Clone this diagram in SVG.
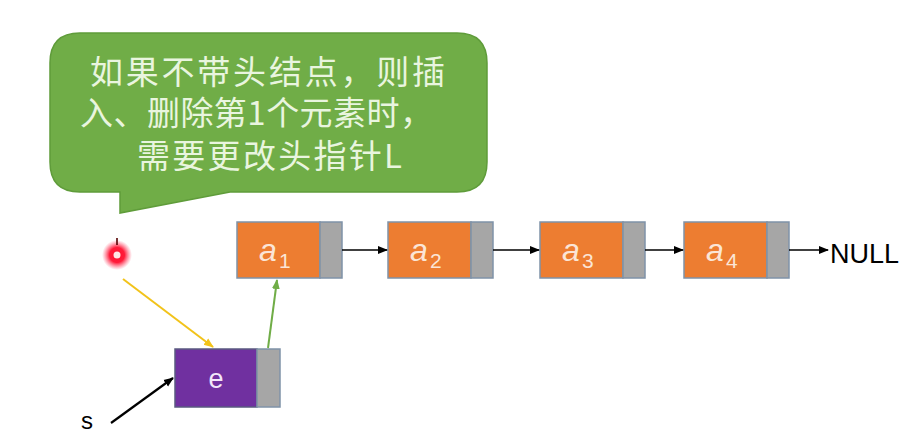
<svg xmlns="http://www.w3.org/2000/svg" width="914" height="434" viewBox="0 0 914 434">
<defs>
<style>
.data{fill:#ed7d31;stroke:#7f92a8;stroke-width:1.5}
.ptr{fill:#a6a6a6;stroke:#7f92a8;stroke-width:1.5}
.lbl{font-family:"Liberation Sans",sans-serif;font-style:italic;fill:#fbe5d6;font-size:32px}
.sub{font-family:"Liberation Sans",sans-serif;fill:#fbe5d6;font-size:21px}
.cjk{font-family:"Noto Sans CJK SC","Liberation Sans",sans-serif;font-size:33px;fill:#e9f5df}
.conn{stroke:#000;stroke-width:1.6;fill:none}
</style>
<marker id="ab" markerWidth="10" markerHeight="10" refX="9" refY="5" orient="auto" markerUnits="userSpaceOnUse"><path d="M0,1 L10,5 L0,9 Z" fill="#000"/></marker>
<marker id="ay" markerWidth="10" markerHeight="10" refX="9" refY="5" orient="auto" markerUnits="userSpaceOnUse"><path d="M0,1 L10,5 L0,9 Z" fill="#f2c31a"/></marker>
<marker id="ag" markerWidth="10" markerHeight="10" refX="9" refY="5" orient="auto" markerUnits="userSpaceOnUse"><path d="M0,1 L10,5 L0,9 Z" fill="#70ad47"/></marker>
<radialGradient id="glow"><stop offset="0" stop-color="#ff1030" stop-opacity="1"/><stop offset="0.5" stop-color="#ff1030" stop-opacity="0.95"/><stop offset="1" stop-color="#ff5070" stop-opacity="0"/></radialGradient>
</defs>
<rect width="914" height="434" fill="#ffffff"/>

<g id="bubble">
<path d="M80,33 H457 Q487,33 487,63 V162 Q487,192 457,192 H230 L120,213 V192 H80 Q50,192 50,162 V63 Q50,33 80,33 Z" fill="#70ad47" stroke="#5f9c3a" stroke-width="1.5"/>
<text class="cjk" x="90" y="84" textLength="355">如果不带头结点，则插</text>
<text class="cjk" x="80" y="125" textLength="353">入、删除第1个元素时，</text>
<text class="cjk" x="137" y="168" textLength="265">需要更改头指针L</text>
</g>

<g id="pointer-dot">
<circle cx="117" cy="255" r="15" fill="url(#glow)"/>
<circle cx="117" cy="255" r="3.5" fill="#ffe6e6"/>
<line x1="117" y1="238" x2="117" y2="245" stroke="#500" stroke-width="1.6"/>
</g>

<g id="a1">
<rect class="data" x="237" y="222" width="83" height="56"/>
<rect class="ptr" x="320" y="222" width="22" height="56"/>
<text class="lbl" x="259" y="261">a</text><text class="sub" x="279" y="268">1</text>
</g>
<g id="a2">
<rect class="data" x="388" y="222" width="83" height="56"/>
<rect class="ptr" x="471" y="222" width="22" height="56"/>
<text class="lbl" x="410" y="261">a</text><text class="sub" x="430" y="268">2</text>
</g>
<g id="a3">
<rect class="data" x="540" y="222" width="83" height="56"/>
<rect class="ptr" x="623" y="222" width="22" height="56"/>
<text class="lbl" x="562" y="261">a</text><text class="sub" x="582" y="268">3</text>
</g>
<g id="a4">
<rect class="data" x="684" y="222" width="83" height="56"/>
<rect class="ptr" x="767" y="222" width="22" height="56"/>
<text class="lbl" x="706" y="261">a</text><text class="sub" x="726" y="268">4</text>
</g>
<g id="e">
<rect x="175" y="349" width="82" height="58" fill="#7030a0" stroke="#5a5a80" stroke-width="1.5"/>
<rect class="ptr" x="257" y="349" width="23" height="58"/>
<text x="216" y="388" font-family="'Liberation Sans',sans-serif" font-size="27" fill="#f2e6fa" text-anchor="middle">e</text>
</g>
<g id="null">
<text x="830" y="263" font-family="'Liberation Sans',sans-serif" font-size="27" fill="#000">NULL</text>
</g>
<g id="s">
<text x="81" y="429" font-family="'Liberation Sans',sans-serif" font-size="24" fill="#000">s</text>
</g>

<g id="connectors">
<line class="conn" x1="342" y1="250" x2="387" y2="250" marker-end="url(#ab)"/>
<line class="conn" x1="493" y1="250" x2="539" y2="250" marker-end="url(#ab)"/>
<line class="conn" x1="645" y1="250" x2="683" y2="250" marker-end="url(#ab)"/>
<line class="conn" x1="789" y1="250" x2="828" y2="250" marker-end="url(#ab)"/>
<line x1="123" y1="279" x2="213" y2="347" stroke="#f2c31a" stroke-width="2" marker-end="url(#ay)"/>
<line x1="268" y1="348" x2="277" y2="280" stroke="#70ad47" stroke-width="2" marker-end="url(#ag)"/>
<line x1="111" y1="423" x2="173" y2="378" stroke="#000" stroke-width="2.2" marker-end="url(#ab)"/>
</g>
</svg>
